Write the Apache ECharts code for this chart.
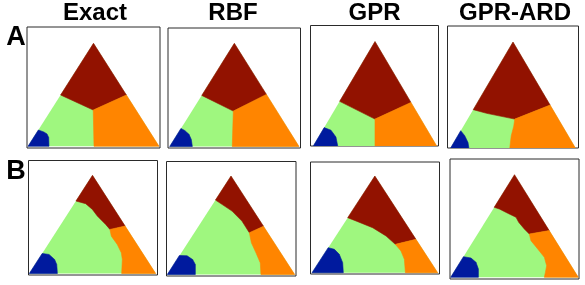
<!DOCTYPE html>
<html>
<head>
<meta charset="utf-8">
<script src="https://cdn.jsdelivr.net/npm/echarts@6/dist/echarts.min.js"></script>
<style>html,body{margin:0;padding:0;background:#fff}#c{width:585px;height:285px}</style>
</head>
<body>
<div id="c"></div>
<script>
// ---- data (normalized triangle coords: left (0,0), right (1,0), apex (0.5,1)) ----
const columnTitles = ['Exact', 'RBF', 'GPR', 'GPR-ARD'];
const rowLabels = ['A', 'B'];
const phaseNames = ['red', 'orange', 'green', 'blue'];

// Row A
const exactA_redGreen = [[0.249,0.498],[0.498,0.352]];
const exactA_redOrange = [[0.498,0.352],[0.751,0.498]];
const exactA_greenOrange = [[0.498,0.352],[0.504,0]];
const exactA_blue = [[0.079,0.158],[0.12,0.14],[0.145,0.12],[0.158,0.085],[0.16,0]];

const rbfA_redGreen = [[0.248,0.495],[0.492,0.343]];
const rbfA_redOrange = [[0.492,0.343],[0.748,0.505]];
const rbfA_greenOrange = [[0.492,0.343],[0.484,0]];
const rbfA_blue = [[0.087,0.175],[0.116,0.155],[0.149,0.118],[0.167,0.068],[0.175,0]];

const gprA_redGreen = [[0.215,0.43],[0.5,0.261]];
const gprA_redOrange = [[0.5,0.261],[0.79,0.42]];
const gprA_greenOrange = [[0.5,0.261],[0.5,0]];
const gprA_blue = [[0.09,0.18],[0.145,0.155],[0.185,0.09],[0.2,0]];

const ardA_redGreen = [[0.183,0.365],[0.29,0.33],[0.514,0.276]];
const ardA_redOrange = [[0.514,0.276],[0.796,0.408]];
const ardA_greenOrange = [[0.514,0.276],[0.506,0.21],[0.486,0.12],[0.474,0]];
const ardA_blue = [[0.083,0.167],[0.115,0.12],[0.141,0.057],[0.149,0]];

// Row B
const exactB_redGreen = [[0.369,0.738],[0.446,0.711],[0.499,0.653],[0.538,0.585],[0.604,0.5],[0.638,0.449]];
const exactB_redOrange = [[0.638,0.449],[0.758,0.483]];
const exactB_greenOrange = [[0.638,0.449],[0.649,0.38],[0.696,0.296],[0.728,0.211],[0.736,0.143],[0.731,0]];
const exactB_blue = [[0.102,0.204],[0.156,0.194],[0.2,0.143],[0.217,0.092],[0.222,0]];

const rbfB_redGreen = [[0.378,0.756],[0.429,0.712],[0.508,0.644],[0.586,0.542],[0.644,0.424]];
const rbfB_redOrange = [[0.644,0.424],[0.755,0.49]];
const rbfB_greenOrange = [[0.644,0.424],[0.66,0.322],[0.696,0.22],[0.73,0.118],[0.735,0]];
const rbfB_blue = [[0.095,0.193],[0.155,0.19],[0.199,0.152],[0.22,0.101],[0.22,0]];

const gprB_redGreen = [[0.284,0.569],[0.35,0.535],[0.483,0.465],[0.589,0.38],[0.663,0.293]];
const gprB_redOrange = [[0.663,0.293],[0.827,0.345]];
const gprB_greenOrange = [[0.663,0.293],[0.708,0.224],[0.735,0.138],[0.743,0]];
const gprB_blue = [[0.129,0.259],[0.178,0.242],[0.217,0.19],[0.244,0.104],[0.249,0]];

const ardB_redGreen = [[0.341,0.682],[0.381,0.666],[0.447,0.624],[0.512,0.585],[0.533,0.536],[0.577,0.471],[0.616,0.422]];
const ardB_redOrange = [[0.616,0.422],[0.772,0.455]];
const ardB_greenOrange = [[0.616,0.422],[0.629,0.357],[0.682,0.276],[0.734,0.195],[0.752,0.113],[0.742,0.048],[0.734,0]];
const ardB_blue = [[0.1,0.201],[0.159,0.188],[0.198,0.146],[0.217,0.081],[0.217,0]];

// ---- layout (pixels): panel frame box and where the triangle sits ----
const panelLayout = [
  {box:[27,27,160,148],      tri:[28,159,146.3,43.3]},
  {box:[168,28,300.5,148],   tri:[169.7,299,146.5,43.3]},
  {box:[310.5,25.5,438.5,146], tri:[313,437,146.5,41.5]},
  {box:[447.5,26,578.5,148], tri:[450.3,575.7,148.5,42]},
  {box:[28.5,160.5,157.5,275], tri:[29.3,155.7,273.5,175.3]},
  {box:[166.5,161.5,296,276],  tri:[167.3,294.7,274.5,176]},
  {box:[310.5,162,439.5,274],  tri:[312,437.7,272.7,176]},
  {box:[450,159,579,279],      tri:[450.7,578.3,277.3,174.7]}
];
const panels = [
  [exactA_redGreen, exactA_redOrange, exactA_greenOrange, exactA_blue],
  [rbfA_redGreen, rbfA_redOrange, rbfA_greenOrange, rbfA_blue],
  [gprA_redGreen, gprA_redOrange, gprA_greenOrange, gprA_blue],
  [ardA_redGreen, ardA_redOrange, ardA_greenOrange, ardA_blue],
  [exactB_redGreen, exactB_redOrange, exactB_greenOrange, exactB_blue],
  [rbfB_redGreen, rbfB_redOrange, rbfB_greenOrange, rbfB_blue],
  [gprB_redGreen, gprB_redOrange, gprB_greenOrange, gprB_blue],
  [ardB_redGreen, ardB_redOrange, ardB_greenOrange, ardB_blue]
];
const colors = {green:'#9ff77f', red:'#921200', orange:'#ff8500', blue:'#001a9e'};

function buildRegions(p) {
  const [rg, ro, go, bl] = p;
  const L = [0,0], R = [1,0], T = [0.5,1];
  return [
    {c: colors.green, pts: [L, R, T]},
    {c: colors.red, pts: [T].concat(rg, ro.slice(1))},
    {c: colors.orange, pts: ro.concat([R], go.slice().reverse().slice(0, -1))},
    {c: colors.blue, pts: [L].concat(bl)}
  ];
}

const grids = [], xAxes = [], yAxes = [], series = [];
panels.forEach((p, i) => {
  const lay = panelLayout[i];
  const [l, t, r, b] = lay.box;
  const [x0, x1, by, ty] = lay.tri;
  grids.push({left: l, top: t, width: r - l, height: b - t, show: true,
    borderColor: '#2a2a2a', borderWidth: 1, backgroundColor: '#fff'});
  xAxes.push({type: 'value', gridIndex: i, show: false,
    min: (l - x0) / (x1 - x0), max: (r - x0) / (x1 - x0)});
  yAxes.push({type: 'value', gridIndex: i, show: false,
    min: (by - b) / (by - ty), max: (by - t) / (by - ty)});
  const regions = buildRegions(p);
  series.push({
    type: 'custom', xAxisIndex: i, yAxisIndex: i, silent: true, clip: true,
    data: regions.map((rg, k) => ({name: k === 0 ? 'green' : phaseNames[k - 1], value: rg.pts[0]})),
    renderItem: function (params, api) {
      const rg = regions[params.dataIndex];
      return {type: 'polygon', shape: {points: rg.pts.map(pt => api.coord(pt))},
        style: {fill: rg.c, stroke: rg.c, lineWidth: params.dataIndex === 0 ? 0 : 0.6}};
    }
  });
});

const titleX = [95, 233, 374.5, 515];
const graphics = [];
columnTitles.forEach((s, i) => graphics.push({type: 'text', x: titleX[i], y: 13,
  style: {text: s, fill: '#000', font: 'bold 24px "Liberation Sans", Arial, sans-serif', textAlign: 'center', textVerticalAlign: 'middle'}}));
const rowY = [38, 172];
rowLabels.forEach((s, i) => graphics.push({type: 'text', x: 16, y: rowY[i],
  style: {text: s, fill: '#000', font: 'bold 27px "Liberation Sans", Arial, sans-serif', textAlign: 'center', textVerticalAlign: 'middle'}}));

const chart = echarts.init(document.getElementById('c'), null, {renderer: 'canvas'});
chart.setOption({
  animation: false,
  backgroundColor: '#fff',
  grid: grids, xAxis: xAxes, yAxis: yAxes, series: series,
  graphic: graphics
});
</script>
</body>
</html>
